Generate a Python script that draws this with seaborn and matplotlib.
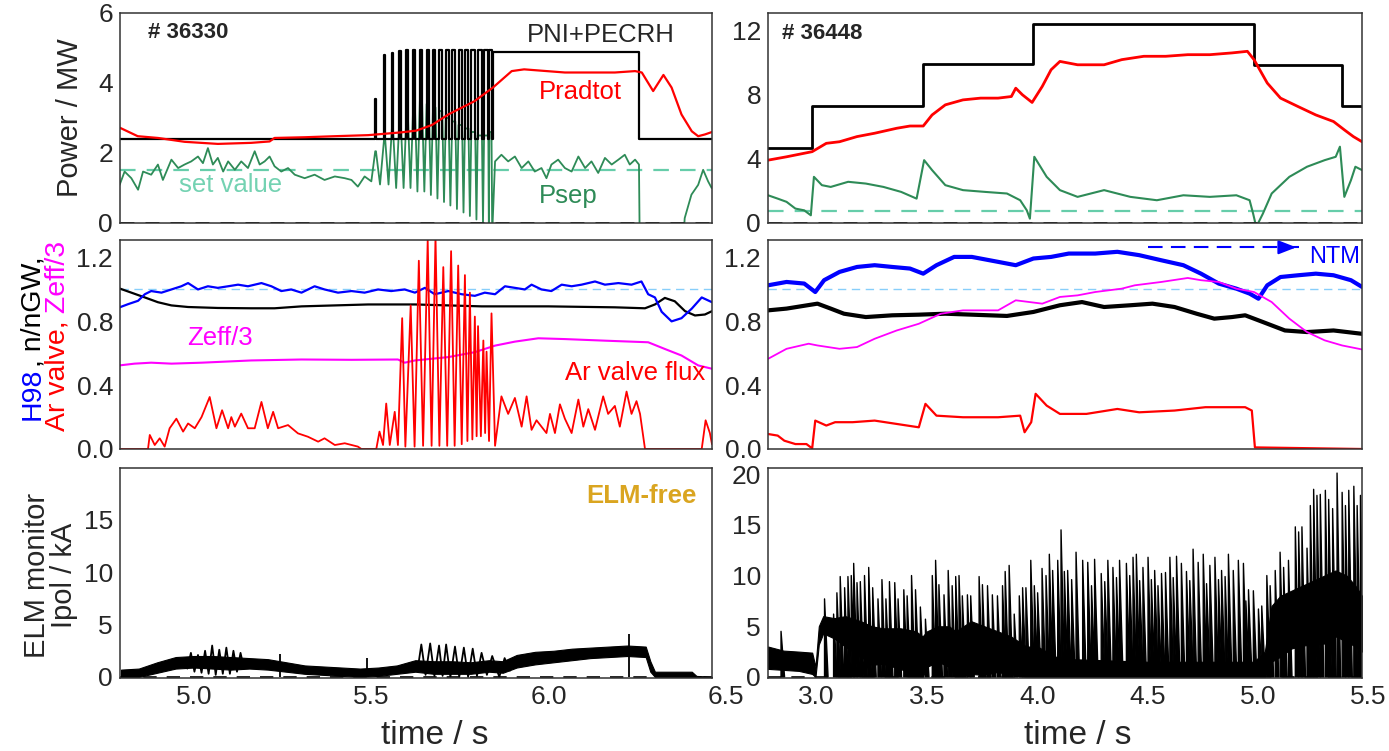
import matplotlib
matplotlib.use('Agg')
import matplotlib.pyplot as plt
from matplotlib.ticker import MultipleLocator, FormatStrFormatter
from matplotlib.collections import PolyCollection
import seaborn as sns

# ================= shot 36330 (left column) =================
# heating power PNI+PECRH : base level, Ar-valve pulsed phase, flat top
pni_base = 2.4
pni_flat = 4.88
pulse_on = [5.510, 5.535, 5.557, 5.578, 5.598, 5.617, 5.636, 5.655, 5.673,
            5.691, 5.709, 5.727, 5.745, 5.763, 5.781, 5.799, 5.817, 5.832]
pulse_off = [5.512, 5.538, 5.560, 5.582, 5.602, 5.622, 5.642, 5.661, 5.680,
             5.699, 5.717, 5.736, 5.755, 5.773, 5.792, 5.811, 5.829, 5.838]
pulse_top = [3.55, 4.8, 4.85, 4.9, 4.95, 4.95, 4.95, 4.95, 4.95,
             4.95, 4.95, 4.95, 4.95, 4.95, 4.95, 4.95, 4.95, 4.95]
flat_start, flat_end = 5.842, 6.255
left_t0, left_t1 = 4.79, 6.46

# Pradtot
prad_l_t = [4.79, 4.84, 4.897, 4.972, 5.066, 5.16, 5.212, 5.226, 5.311, 5.396,
            5.49, 5.584, 5.626, 5.67, 5.716, 5.79, 5.842, 5.895, 5.93, 6.045,
            6.186, 6.243, 6.262, 6.294, 6.323, 6.346, 6.374, 6.403, 6.421, 6.44, 6.46]
prad_l_v = [2.72, 2.48, 2.43, 2.32, 2.26, 2.29, 2.33, 2.43, 2.45, 2.48,
            2.51, 2.59, 2.64, 2.8, 3.10, 3.48, 3.87, 4.34, 4.39, 4.30,
            4.30, 4.34, 4.30, 3.77, 4.23, 3.87, 3.10, 2.62, 2.48, 2.53, 2.60]

# Psep before / during / after the pulsed phase
psep_pre_t = [4.789, 4.803, 4.822, 4.841, 4.855, 4.878, 4.897, 4.911, 4.935, 4.954,
              4.972, 4.991, 5.010, 5.024, 5.038, 5.052, 5.066, 5.081, 5.095, 5.114,
              5.132, 5.151, 5.170, 5.184, 5.198, 5.212, 5.226, 5.245, 5.264, 5.283,
              5.311, 5.339, 5.367, 5.396, 5.424, 5.443, 5.461, 5.480, 5.499]
psep_pre_v = [1.09, 1.47, 1.28, 0.95, 1.47, 1.38, 1.67, 1.23, 1.81, 1.57,
              1.67, 1.76, 1.90, 1.71, 2.14, 1.67, 1.86, 1.47, 1.76, 1.52,
              1.76, 1.57, 2.05, 1.67, 1.76, 1.90, 1.62, 1.47, 1.57, 1.38,
              1.28, 1.38, 1.23, 1.33, 1.28, 1.23, 1.04, 1.33, 1.19]
psep_peak = [2.05, 2.4, 2.7, 2.9, 3.1, 3.3, 3.5, 3.4, 3.3,
             3.2, 3.0, 2.9, 2.8, 2.7, 2.6, 2.5, 2.5, 2.6]
psep_gap = [1.1, 1.1, 1.0, 1.0, 1.0, 0.9, 0.9, 0.8, 0.7,
            0.6, 0.5, 0.4, 0.3, 0.2, 0.1, 0.0, -0.2, -0.3]
psep_post_t = [5.848, 5.866, 5.885, 5.904, 5.923, 5.942, 5.960, 5.979, 5.993, 6.007,
               6.026, 6.045, 6.064, 6.083, 6.102, 6.120, 6.139, 6.158, 6.177, 6.196,
               6.214, 6.228, 6.243, 6.254, 6.256, 6.379, 6.383, 6.402, 6.421, 6.435,
               6.449, 6.459]
psep_post_v = [1.76, 1.95, 1.76, 1.90, 1.57, 1.76, 1.47, 1.57, 1.28, 1.67,
               1.81, 1.57, 1.47, 1.90, 1.57, 1.76, 1.43, 1.86, 1.67, 1.81,
               1.95, 1.67, 1.81, 1.67, -0.5, -0.5, 0.14, 0.81, 1.09, 1.52,
               1.19, 1.00]
psep_set_l = 1.5

# H98, n/nGW, Zeff/3, Ar valve flux
h98_l_t = [4.789, 4.813, 4.841, 4.86, 4.878, 4.907, 4.935, 4.963, 4.982, 5.01,
           5.038, 5.066, 5.095, 5.123, 5.151, 5.189, 5.217, 5.245, 5.273, 5.302,
           5.339, 5.367, 5.405, 5.443, 5.48, 5.518, 5.555, 5.593, 5.622, 5.65,
           5.678, 5.716, 5.754, 5.791, 5.819, 5.848, 5.876, 5.904, 5.932, 5.951,
           5.979, 6.007, 6.036, 6.064, 6.092, 6.13, 6.158, 6.196, 6.233, 6.261,
           6.28, 6.299, 6.318, 6.346, 6.374, 6.403, 6.431, 6.46]
h98_l_v = [0.888, 0.908, 0.929, 0.97, 0.99, 0.98, 1.0, 1.02, 1.04, 1.0,
           1.02, 1.01, 1.02, 1.03, 1.02, 1.04, 1.02, 0.99, 1.0, 0.98,
           1.02, 1.0, 0.98, 0.99, 0.98, 1.0, 0.99, 1.0, 0.98, 1.01,
           0.97, 0.99, 0.97, 0.96, 0.98, 0.97, 1.02, 1.01, 1.0, 1.03,
           1.0, 0.99, 1.03, 1.02, 1.03, 1.05, 1.03, 1.04, 1.03, 1.05,
           0.97, 0.95, 0.86, 0.80, 0.82, 0.88, 0.95, 0.92]
ngw_l_t = [4.789, 4.822, 4.86, 4.897, 4.935, 4.982, 5.066, 5.16, 5.226, 5.302,
           5.396, 5.49, 5.622, 5.81, 5.998, 6.186, 6.271, 6.299, 6.327, 6.355,
           6.384, 6.412, 6.44, 6.46]
ngw_l_v = [1.006, 0.98, 0.95, 0.92, 0.90, 0.89, 0.884, 0.882, 0.882, 0.894,
           0.90, 0.906, 0.906, 0.894, 0.894, 0.888, 0.882, 0.906, 0.947, 0.926,
           0.864, 0.837, 0.843, 0.864]
zeff_l_t = [4.789, 4.831, 4.878, 4.935, 5.02, 5.16, 5.302, 5.443, 5.574, 5.593,
            5.622, 5.716, 5.791, 5.848, 5.904, 5.97, 6.045, 6.158, 6.28, 6.327,
            6.374, 6.421, 6.46]
zeff_l_v = [0.524, 0.535, 0.541, 0.535, 0.541, 0.555, 0.561, 0.559, 0.561, 0.541,
            0.555, 0.576, 0.607, 0.648, 0.673, 0.694, 0.689, 0.679, 0.669, 0.627,
            0.586, 0.524, 0.503]
ar_l_t = [4.79, 4.869, 4.874, 4.888, 4.902, 4.916, 4.93, 4.949, 4.968, 4.982,
          5.001, 5.02, 5.043, 5.062, 5.078, 5.095, 5.104, 5.114, 5.132, 5.151,
          5.17, 5.189, 5.207, 5.222, 5.236, 5.264, 5.292, 5.32, 5.349, 5.367,
          5.396, 5.424, 5.461, 5.471, 5.513, 5.522, 5.532, 5.541, 5.551, 5.565,
          5.574, 5.586, 5.595, 5.61, 5.621, 5.633, 5.645, 5.658, 5.669, 5.68,
          5.691, 5.702, 5.713, 5.724, 5.734, 5.744, 5.754, 5.763, 5.770, 5.777,
          5.784, 5.791, 5.796, 5.800, 5.808, 5.815, 5.820, 5.824, 5.831, 5.838,
          5.848, 5.866, 5.885, 5.904, 5.923, 5.937, 5.951, 5.965, 5.979, 5.993,
          6.003, 6.017, 6.031, 6.045, 6.064, 6.083, 6.097, 6.111, 6.13, 6.153,
          6.167, 6.186, 6.2, 6.219, 6.233, 6.247, 6.257, 6.271, 6.431, 6.442,
          6.454, 6.46]
ar_l_v = [0.0, 0.0, 0.088, 0.025, 0.067, 0.015, 0.13, 0.19, 0.109, 0.16,
          0.13, 0.2, 0.326, 0.13, 0.243, 0.13, 0.2, 0.14, 0.222, 0.13,
          0.13, 0.295, 0.13, 0.233, 0.13, 0.15, 0.098, 0.077, 0.046, 0.067,
          0.025, 0.036, 0.015, 0.0, 0.0, 0.109, 0.025, 0.285, 0.025, 0.233,
          0.025, 0.82, 0.015, 0.9, 0.015, 1.18, 0.02, 1.31, 0.02, 1.33,
          0.02, 1.14, 0.02, 1.24, 0.02, 1.15, 0.03, 1.09, 0.05, 0.98,
          0.06, 0.83, 0.08, 0.77, 0.08, 0.68, 0.1, 0.61, 0.05, 0.85,
          0.02, 0.33, 0.22, 0.32, 0.14, 0.33, 0.12, 0.18, 0.14, 0.1,
          0.22, 0.1, 0.28, 0.19, 0.1, 0.31, 0.14, 0.25, 0.12, 0.33,
          0.22, 0.27, 0.14, 0.36, 0.22, 0.3, 0.22, 0.0, 0.0, 0.18,
          0.1, 0.03]
h98_ref = 1.0

# ELM monitor: noise band, oscillating phases and single peaks
elm_l_t = [4.793, 4.843, 4.895, 4.947, 4.999, 5.051, 5.103, 5.155, 5.207, 5.259,
           5.311, 5.363, 5.415, 5.467, 5.519, 5.571, 5.623, 5.675, 5.727, 5.779,
           5.831, 5.87, 5.909, 5.961, 6.013, 6.065, 6.117, 6.169, 6.221, 6.273,
           6.286, 6.299, 6.403, 6.416, 6.46]
elm_l_lo = [0.0, 0.0, 0.4, 0.8, 0.9, 0.8, 0.7, 0.8, 0.7, 0.5,
            0.3, 0.2, 0.1, 0.0, 0.1, 0.3, 0.5, 0.3, 0.3, 0.3,
            0.5, 0.4, 0.9, 1.2, 1.4, 1.6, 1.8, 1.9, 2.0, 1.9,
            0.5, 0.0, 0.0, 0.0, 0.0]
elm_l_hi = [0.7, 0.8, 1.4, 1.9, 2.0, 2.0, 1.9, 1.8, 1.7, 1.4,
            1.1, 1.0, 0.9, 0.8, 0.9, 1.1, 1.6, 1.5, 1.5, 1.4,
            1.6, 1.5, 2.1, 2.4, 2.5, 2.7, 2.8, 2.9, 3.0, 2.9,
            1.5, 0.5, 0.5, 0.1, 0.0]
osc1_t = [4.98, 4.99, 5.0, 5.01, 5.02, 5.03, 5.04, 5.05, 5.06, 5.07,
          5.08, 5.09, 5.10, 5.11, 5.12, 5.13, 5.14]
osc1_v = [0.8, 2.3, 0.5, 2.1, 0.4, 2.5, 0.3, 3.0, 0.2, 2.6,
          0.3, 2.8, 0.3, 2.5, 0.5, 2.3, 0.8]
osc2_t = [5.63, 5.64, 5.652, 5.665, 5.677, 5.69, 5.70, 5.71, 5.722, 5.735,
          5.747, 5.76, 5.772, 5.785, 5.797, 5.81, 5.825, 5.84, 5.86, 5.875, 5.89]
osc2_v = [0.8, 3.1, 0.2, 3.2, 0.1, 3.0, 0.1, 3.1, 0.0, 2.9,
          0.0, 2.8, 0.0, 2.7, 0.1, 2.3, 0.2, 2.0, 0.0, 1.8, 0.6]
elm_l_peak_t = [5.24, 5.487, 6.227]
elm_l_peak_v = [2.2, 1.8, 4.1]

# ================= shot 36448 (right column) =================
right_t0, right_t1 = 2.78, 5.47
heat_r_t = [2.78, 2.98, 3.48, 3.98, 4.98, 5.38, 5.47]
heat_r_v = [4.7, 7.3, 9.9, 12.4, 9.85, 7.3, 7.3]
prad_r_t = [2.78, 2.864, 2.98, 3.044, 3.104, 3.183, 3.263, 3.363, 3.423, 3.483,
            3.523, 3.583, 3.663, 3.743, 3.822, 3.882, 3.902, 3.932, 3.976, 4.022,
            4.062, 4.102, 4.182, 4.302, 4.382, 4.482, 4.581, 4.681, 4.781, 4.881,
            4.951, 4.981, 5.041, 5.101, 5.181, 5.261, 5.341, 5.391, 5.431, 5.47]
prad_r_v = [3.92, 4.13, 4.45, 4.97, 5.07, 5.39, 5.60, 5.91, 6.05, 6.05,
            6.74, 7.37, 7.68, 7.79, 7.79, 7.89, 8.41, 8.00, 7.52, 8.52,
            9.56, 10.08, 9.87, 9.87, 10.19, 10.40, 10.40, 10.50, 10.50, 10.61,
            10.71, 10.19, 8.73, 7.79, 7.26, 6.74, 6.33, 5.80, 5.39, 5.07]
psep_r_t = [2.78, 2.824, 2.864, 2.904, 2.944, 2.974, 2.988, 3.024, 3.064, 3.143,
            3.223, 3.303, 3.383, 3.453, 3.487, 3.523, 3.583, 3.663, 3.763, 3.862,
            3.922, 3.952, 3.966, 3.986, 4.042, 4.102, 4.182, 4.302, 4.421, 4.541,
            4.661, 4.781, 4.901, 4.961, 4.977, 4.991, 5.021, 5.061, 5.141, 5.221,
            5.301, 5.351, 5.37, 5.39, 5.42, 5.44, 5.47]
psep_r_v = [1.73, 1.52, 1.32, 0.90, 0.79, 0.48, 2.88, 2.36, 2.25, 2.57,
            2.46, 2.25, 1.94, 1.52, 3.92, 3.30, 2.36, 2.05, 1.94, 1.84,
            1.42, 0.79, 0.27, 4.13, 2.88, 2.05, 1.63, 2.05, 1.63, 1.42,
            1.73, 1.63, 1.73, 1.42, 0.58, -0.25, 0.58, 1.84, 2.88, 3.51,
            3.92, 4.13, 4.76, 1.63, 2.67, 3.51, 3.30]
psep_set_r = 0.75

h98_r_t = [2.78, 2.864, 2.944, 2.994, 3.034, 3.104, 3.183, 3.263, 3.343, 3.423,
           3.483, 3.543, 3.623, 3.703, 3.822, 3.902, 3.982, 4.062, 4.142, 4.262,
           4.362, 4.461, 4.561, 4.661, 4.741, 4.821, 4.901, 4.961, 5.001, 5.041,
           5.101, 5.181, 5.261, 5.341, 5.42, 5.47]
h98_r_v = [1.026, 1.047, 1.037, 0.984, 1.058, 1.11, 1.141, 1.152, 1.141, 1.131,
           1.099, 1.152, 1.204, 1.204, 1.173, 1.152, 1.194, 1.204, 1.225, 1.225,
           1.236, 1.215, 1.183, 1.152, 1.099, 1.037, 1.005, 0.974, 0.942, 1.026,
           1.078, 1.089, 1.099, 1.089, 1.058, 1.016]
ngw_r_t = [2.78, 2.864, 3.004, 3.064, 3.124, 3.223, 3.343, 3.463, 3.583, 3.703,
           3.862, 3.982, 4.102, 4.202, 4.302, 4.421, 4.521, 4.621, 4.721, 4.801,
           4.881, 4.941, 5.021, 5.121, 5.221, 5.341, 5.47]
ngw_r_v = [0.869, 0.88, 0.911, 0.88, 0.848, 0.827, 0.838, 0.842, 0.848, 0.842,
           0.834, 0.859, 0.901, 0.921, 0.89, 0.901, 0.911, 0.89, 0.848, 0.817,
           0.827, 0.838, 0.796, 0.743, 0.733, 0.743, 0.722]
zeff_r_t = [2.78, 2.864, 2.964, 3.004, 3.104, 3.183, 3.263, 3.363, 3.463, 3.563,
            3.663, 3.822, 3.902, 4.022, 4.102, 4.182, 4.262, 4.382, 4.441, 4.561,
            4.681, 4.741, 4.821, 4.901, 4.981, 5.061, 5.141, 5.221, 5.301, 5.38, 5.47]
zeff_r_v = [0.565, 0.628, 0.66, 0.649, 0.628, 0.639, 0.691, 0.743, 0.785, 0.848,
            0.869, 0.869, 0.932, 0.911, 0.953, 0.963, 0.984, 1.005, 1.026, 1.047,
            1.072, 1.058, 1.047, 1.005, 0.984, 0.921, 0.817, 0.733, 0.681, 0.649, 0.624]
ar_r_t = [2.78, 2.824, 2.854, 2.904, 2.954, 2.98, 2.994, 3.044, 3.084, 3.163,
          3.263, 3.363, 3.463, 3.493, 3.543, 3.663, 3.822, 3.922, 3.942, 3.972,
          3.992, 4.042, 4.102, 4.222, 4.362, 4.461, 4.621, 4.761, 4.941, 4.971,
          4.985, 5.47]
ar_r_v = [0.094, 0.084, 0.052, 0.031, 0.031, 0.004, 0.178, 0.147, 0.168, 0.168,
          0.178, 0.157, 0.136, 0.283, 0.209, 0.199, 0.199, 0.209, 0.105, 0.168,
          0.346, 0.272, 0.22, 0.22, 0.251, 0.23, 0.241, 0.262, 0.262, 0.241,
          0.01, 0.0]
ntm_t = [4.50, 5.185]
ntm_level = 1.264

# ELM monitor: base band plus ELM spikes
elm_r_t = [2.78, 2.85, 2.92, 2.98, 2.995, 3.01, 3.03, 3.08, 3.13, 3.2,
           3.25, 3.3, 3.38, 3.45, 3.48, 3.5, 3.55, 3.6, 3.63, 3.7,
           3.76, 3.82, 3.88, 3.95, 4.0, 4.1, 4.5, 4.98, 5.03, 5.06,
           5.1, 5.15, 5.2, 5.25, 5.3, 5.35, 5.4, 5.44, 5.47]
elm_r_lo = [0.8, 0.7, 0.6, 0.3, 0.0, 3.2, 4.3, 3.8, 3.0, 2.0,
            1.2, 1.3, 0.8, 0.1, 0.0, 1.0, 1.5, 1.0, 0.0, 0.3,
            0.2, 0.5, 0.2, 0.0, 0.0, 0.0, 0.0, 0.0, 0.0, 1.5,
            2.0, 2.8, 3.1, 3.2, 3.3, 4.0, 3.5, 3.0, 2.5]
elm_r_hi = [3.0, 2.6, 2.5, 2.4, 1.0, 5.0, 6.0, 5.8, 6.0, 5.5,
            5.0, 4.8, 4.8, 4.5, 4.0, 4.5, 5.0, 5.0, 4.5, 5.5,
            5.0, 4.5, 4.0, 3.0, 3.0, 1.8, 1.5, 1.5, 2.5, 7.0,
            8.0, 8.5, 9.0, 9.5, 10.0, 10.5, 10.0, 9.0, 8.0]
elm_spike_t = [2.839, 3.036, 3.077, 3.092, 3.107, 3.127, 3.142, 3.157, 3.168, 3.183,
               3.198, 3.217, 3.236, 3.254, 3.278, 3.296, 3.314, 3.33, 3.354, 3.369,
               3.395, 3.41, 3.43, 3.448, 3.47, 3.493, 3.524, 3.539, 3.554, 3.577,
               3.596, 3.614, 3.63, 3.645, 3.66, 3.683, 3.698, 3.736, 3.751, 3.774,
               3.796, 3.819, 3.842, 3.854, 3.872, 3.895, 3.918, 3.933, 3.948, 3.97,
               3.986, 4.001, 4.021, 4.039, 4.054, 4.069, 4.092, 4.107, 4.122, 4.137,
               4.155, 4.175, 4.205, 4.228, 4.245, 4.259, 4.289, 4.305, 4.319, 4.342,
               4.358, 4.372, 4.403, 4.418, 4.433, 4.448, 4.463, 4.478, 4.501, 4.516,
               4.531, 4.546, 4.562, 4.58, 4.6, 4.615, 4.63, 4.652, 4.675, 4.69,
               4.705, 4.728, 4.751, 4.766, 4.781, 4.804, 4.82, 4.834, 4.85, 4.865,
               4.887, 4.91, 4.933, 4.944, 4.956, 4.978, 5.001, 5.016, 5.039, 5.054,
               5.077, 5.099, 5.115, 5.137, 5.168, 5.183, 5.198, 5.221, 5.236, 5.251,
               5.266, 5.281, 5.304, 5.319, 5.337, 5.357, 5.38, 5.395, 5.41, 5.433,
               5.448, 5.463]
elm_spike_v = [4.5, 7.7, 6.2, 8.3, 9.9, 8.8, 9.9, 10.0, 11.2, 9.3,
               9.4, 10.0, 10.8, 8.8, 7.7, 9.6, 7.7, 9.4, 9.3, 7.7,
               8.6, 8.0, 10.0, 8.6, 6.9, 5.7, 10.0, 11.5, 9.1, 8.1,
               10.5, 9.0, 9.9, 10.0, 8.0, 8.1, 8.0, 9.9, 9.1, 9.0,
               8.1, 8.0, 9.0, 10.4, 11.0, 6.2, 8.0, 8.8, 8.8, 11.5,
               9.0, 8.3, 10.7, 10.0, 12.1, 10.5, 11.5, 14.5, 10.4, 10.5,
               9.6, 12.3, 11.5, 11.3, 9.0, 11.6, 10.2, 9.4, 11.5, 10.8,
               9.8, 11.5, 11.2, 10.0, 11.8, 12.1, 9.5, 10.8, 11.8, 9.6,
               10.5, 9.0, 10.2, 10.3, 11.8, 9.8, 11.9, 11.2, 10.4, 9.5,
               12.6, 11.3, 12.1, 9.2, 11.0, 11.8, 9.6, 10.5, 9.9, 12.1,
               10.5, 11.5, 11.2, 7.5, 8.6, 8.5, 6.7, 7.0, 10.0, 9.0,
               10.5, 12.3, 10.8, 11.5, 14.8, 14.3, 14.8, 12.7, 16.9, 18.5,
               17.9, 18.0, 18.4, 17.5, 16.6, 20.1, 18.2, 16.9, 18.4, 18.8,
               16.9, 17.9]

# ================= figure =================
sns.set_theme(style='white')
plt.rcParams['font.family'] = ['Liberation Sans', 'DejaVu Sans']
plt.rcParams['axes.edgecolor'] = '#333333'
plt.rcParams['axes.linewidth'] = 1.1

RED, BLUE, MAG, GRN = '#ff0000', '#0000ff', '#ff00ff', '#2e8b57'
AQUA, SKY, GOLD = '#66cdaa', '#87cefa', '#daa520'
W, H = 1389, 751
ELM_W = 0.016   # base width of an ELM spike (s), drawing only

fig = plt.figure(figsize=(W / 100, H / 100), dpi=100)


def box(x0, y0, x1, y1):
    return fig.add_axes([x0 / W, 1 - y1 / H, (x1 - x0) / W, (y1 - y0) / H])


ax_tl = box(120, 13, 712, 223)
ax_tr = box(768, 13, 1362, 223)
ax_ml = box(120, 240, 712, 449)
ax_mr = box(768, 240, 1362, 449)
ax_bl = box(120, 468, 712, 678)
ax_br = box(768, 468, 1362, 678)


def line(ax, t, v, color, lw=1.4, **kw):
    sns.lineplot(x=t, y=v, ax=ax, color=color, lw=lw, estimator=None,
                 sort=False, legend=False, **kw)


# ---- top left: powers
pni_t, pni_v = [left_t0], [pni_base]
for on, off, top in zip(pulse_on, pulse_off, pulse_top):
    pni_t += [on, on, off, off]
    pni_v += [pni_base, top, top, pni_base]
pni_t += [flat_start, flat_start, flat_end, flat_end, left_t1]
pni_v += [pni_base, pni_flat, pni_flat, pni_base, pni_base]

ps_t, ps_v = list(psep_pre_t), list(psep_pre_v)
nxt = pulse_on[1:] + [flat_start]
for on, off, n_on, pk, gp in zip(pulse_on, pulse_off, nxt, psep_peak, psep_gap):
    ps_t += [on, off, (off + n_on) / 2]
    ps_v += [pk, pk, gp]
ps_t += psep_post_t
ps_v += psep_post_v

ax_tl.axhline(psep_set_l, color=AQUA, lw=1.6, ls=(0, (7, 5)), zorder=1)
line(ax_tl, ps_t, ps_v, GRN, lw=1.3)
line(ax_tl, pni_t, pni_v, 'black', lw=1.6)
line(ax_tl, prad_l_t, prad_l_v, RED, lw=1.6)
ax_tl.axhline(0, color='black', lw=2.0, ls=(0, (5, 4)))
ax_tl.set_ylim(0, 6)
ax_tl.yaxis.set_major_locator(MultipleLocator(2))
ax_tl.yaxis.set_minor_locator(MultipleLocator(0.25))
ax_tl.text(4.87, 5.45, '# 36330', fontsize=16, fontweight='bold', va='center')
ax_tl.text(6.147, 5.37, 'PNI+PECRH', fontsize=18.5, ha='center', va='center')
ax_tl.text(6.088, 3.73, 'Pradtot', fontsize=18.5, color=RED, ha='center', va='center')
ax_tl.text(6.054, 0.78, 'Psep', fontsize=18.5, color=GRN, ha='center', va='center')
ax_tl.text(5.103, 1.09, 'set value', fontsize=18.5, color='#74d2b2', ha='center', va='center')

# ---- top right
line(ax_tr, heat_r_t, heat_r_v, 'black', lw=2.0, drawstyle='steps-post')
ax_tr.axhline(psep_set_r, color=AQUA, lw=1.6, ls=(0, (7, 5)), zorder=1)
line(ax_tr, psep_r_t, psep_r_v, GRN, lw=1.5)
line(ax_tr, prad_r_t, prad_r_v, RED, lw=2.0)
ax_tr.axhline(0, color='black', lw=2.0, ls=(0, (5, 4)))
ax_tr.set_ylim(0, 13.1)
ax_tr.yaxis.set_major_locator(MultipleLocator(4))
ax_tr.yaxis.set_minor_locator(MultipleLocator(1))
ax_tr.text(2.845, 11.8, '# 36448', fontsize=16, fontweight='bold', va='center')

# ---- middle left
ax_ml.axhline(h98_ref, color=SKY, lw=1.0, ls=(0, (6, 4)), zorder=1)
line(ax_ml, zeff_l_t, zeff_l_v, MAG, lw=1.5)
line(ax_ml, ngw_l_t, ngw_l_v, 'black', lw=1.6)
line(ax_ml, h98_l_t, h98_l_v, BLUE, lw=1.6)
line(ax_ml, ar_l_t, ar_l_v, RED, lw=1.3)
ax_ml.set_ylim(0, 1.31)
ax_ml.text(5.072, 0.695, 'Zeff/3', fontsize=18.5, color=MAG, ha='center', va='center')
ax_ml.text(6.243, 0.477, 'Ar valve flux', fontsize=18.5, color=RED, ha='center', va='center')

# ---- middle right
ax_mr.axhline(h98_ref, color=SKY, lw=1.0, ls=(0, (6, 4)), zorder=1)
line(ax_mr, ngw_r_t, ngw_r_v, 'black', lw=3.0)
line(ax_mr, h98_r_t, h98_r_v, BLUE, lw=3.0)
line(ax_mr, zeff_r_t, zeff_r_v, MAG, lw=1.3)
line(ax_mr, ar_r_t, ar_r_v, RED, lw=1.6)
ax_mr.plot(ntm_t, [ntm_level, ntm_level], color=BLUE, lw=1.5, ls=(0, (7, 4)))
ax_mr.annotate('', xy=(ntm_t[1], ntm_level), xytext=(ntm_t[1] - 0.07, ntm_level),
               arrowprops=dict(arrowstyle='-|>,head_length=0.9,head_width=0.35',
                               color=BLUE, lw=1.5))
ax_mr.text(5.344, 1.205, 'NTM', fontsize=17, color=BLUE, ha='center', va='center')
ax_mr.set_ylim(0, 1.31)

for ax in (ax_ml, ax_mr):
    ax.yaxis.set_major_locator(MultipleLocator(0.4))
    ax.yaxis.set_minor_locator(MultipleLocator(0.1))
    ax.yaxis.set_major_formatter(FormatStrFormatter('%.1f'))

# ---- bottom left: ELM monitor
ax_bl.fill_between(elm_l_t, elm_l_lo, elm_l_hi, color='black', lw=0.8)
line(ax_bl, osc1_t, osc1_v, 'black', lw=1.3)
line(ax_bl, osc2_t, osc2_v, 'black', lw=1.3)
ax_bl.vlines(elm_l_peak_t, 0, elm_l_peak_v, color='black', lw=1.3)
ax_bl.axhline(0, color='black', lw=1.2, ls=(0, (8, 6)))
ax_bl.set_ylim(-0.1, 19.95)
ax_bl.text(6.26, 17.3, 'ELM-free', fontsize=18.5, fontweight='bold', color=GOLD,
           ha='center', va='center')

# ---- bottom right: each ELM as a sharp rise and fast decay
ax_br.fill_between(elm_r_t, elm_r_lo, elm_r_hi, color='black', lw=0.8)
elm_polys = [[(t, 0), (t, h), (t + ELM_W, 0)] for t, h in zip(elm_spike_t, elm_spike_v)]
ax_br.add_collection(PolyCollection(elm_polys, facecolors='black',
                                    edgecolors='black', linewidths=1.0))
ax_br.axhline(0, color='black', lw=1.2, ls=(0, (8, 6)))
ax_br.set_ylim(-0.1, 20.6)

for ax in (ax_bl, ax_br):
    ax.yaxis.set_major_locator(MultipleLocator(5))
    ax.yaxis.set_minor_locator(MultipleLocator(1))

# ---- common axis styling
for ax, (t0, t1) in zip((ax_tl, ax_ml, ax_bl, ax_tr, ax_mr, ax_br),
                        [(left_t0, left_t1)] * 3 + [(right_t0, right_t1)] * 3):
    ax.set_xlim(t0, t1)
    ax.xaxis.set_major_locator(MultipleLocator(0.5))
    ax.xaxis.set_minor_locator(MultipleLocator(0.1))
    ax.xaxis.set_major_formatter(FormatStrFormatter('%.1f'))
    ax.tick_params(which='both', direction='in', top=False, right=False,
                   labelsize=19, pad=5)
    ax.tick_params(which='major', length=7, width=1.0)
    ax.tick_params(which='minor', length=3.5, width=0.8)
    ax.set_xlabel('')
    ax.set_ylabel('')
    for s in ax.spines.values():
        s.set_visible(True)
for ax in (ax_tl, ax_ml, ax_tr, ax_mr):
    ax.tick_params(labelbottom=False)

# tick labels that sit just beyond the right edge of each time window
for ax, tl in ((ax_bl, '6.5'), (ax_br, '5.5')):
    ax.annotate(tl, xy=(float(tl), 0), xycoords=('data', 'axes fraction'),
                xytext=(0, -5), textcoords='offset points', ha='center',
                va='top', fontsize=19, annotation_clip=False)

# ---- axis titles
fig.text(435 / W, 1 - 735 / H, 'time / s', fontsize=24, ha='center', va='center')
fig.text(1078 / W, 1 - 735 / H, 'time / s', fontsize=24, ha='center', va='center')
fig.text(70 / W, 1 - 118 / H, 'Power / MW', fontsize=21, rotation=90,
         ha='center', va='center')
fig.text(37 / W, 1 - 575 / H, 'ELM monitor', fontsize=21, rotation=90,
         ha='center', va='center')
fig.text(64 / W, 1 - 575 / H, 'Ipol / kA', fontsize=21, rotation=90,
         ha='center', va='center')


def stacked_label(x_px, yc_px, pieces, fs):
    renderer = fig.canvas.get_renderer()
    texts = [fig.text(0, 0, s, color=c, fontsize=fs, rotation=90,
                      ha='center', va='bottom') for s, c in pieces]
    hs = [t.get_window_extent(renderer).height for t in texts]
    y = (H - yc_px) - sum(hs) / 2
    for t, h in zip(texts, hs):
        t.set_position((x_px / W, y / H))
        y += h


stacked_label(33, 338, [('H98', BLUE), (', n/nGW,', 'black')], 20.5)
stacked_label(58, 336, [('Ar valve,', RED), (' Zeff/3', MAG)], 20.5)

fig.savefig('out.png', dpi=100)
